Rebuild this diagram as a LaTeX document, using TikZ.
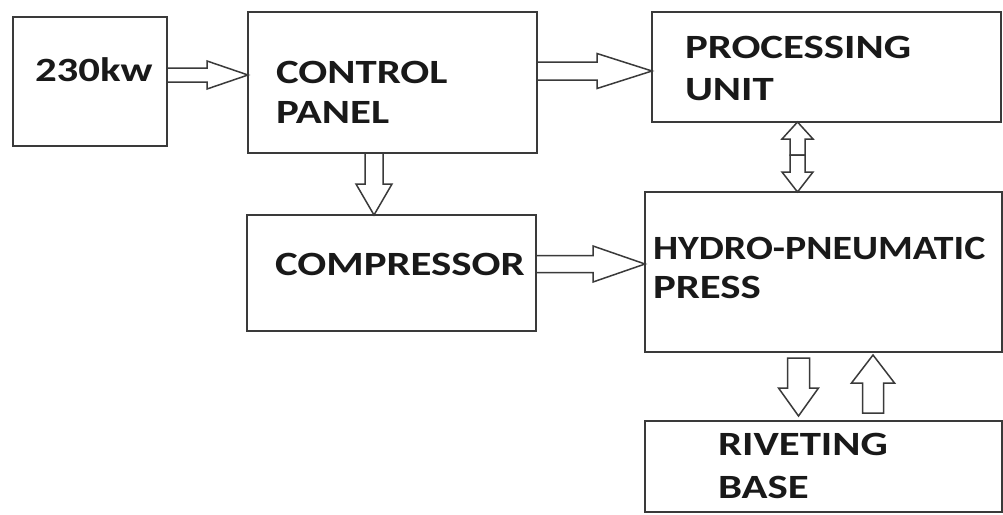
\documentclass[tikz,border=0pt]{standalone}
\usepackage{fontspec}
\usepackage{graphicx}
\setmainfont{Carlito}[FakeStretch=1.26]
\usetikzlibrary{calc}
\definecolor{edge}{HTML}{3A3A3A}
\tikzset{
  box/.style={draw=edge, line width=1.7pt, fill=white, inner sep=0pt, outer sep=0pt},
  barrow/.style={draw=edge, line width=1.5pt, fill=white, line join=miter},
  txt/.style={anchor=base west, inner sep=0pt, outer sep=0pt, text=black!90,
    font=\bfseries\fontsize{34}{41}\selectfont}
}
% block arrow: #1 start, #2 tip, #3 shaft half width, #4 head half width, #5 head length
\newcommand\blockarr[5]{%
  \coordinate (tmpP) at ($(#2)!#5!(#1)$);
  \draw[barrow] ($(#1)!#3!90:(#2)$) -- ($(tmpP)!#3!90:(#2)$) -- ($(tmpP)!#4!90:(#2)$)
    -- (#2) -- ($(tmpP)!#4!-90:(#2)$) -- ($(tmpP)!#3!-90:(#2)$) -- ($(#1)!#3!-90:(#2)$) -- cycle;}
\begin{document}
\begin{tikzpicture}[x=1pt,y=-1pt]
\useasboundingbox[fill=white] (0,0) rectangle (1003,514);
% boxes
\node[box, minimum width=154pt, minimum height=129pt] (b1) at (90,81.5) {};
\node[box, minimum width=289pt, minimum height=141pt] (b2) at (392.5,82.5) {};
\node[box, minimum width=349pt, minimum height=110pt] (b3) at (826.5,67) {};
\node[box, minimum width=289pt, minimum height=116pt] (b4) at (391.5,273) {};
\node[box, minimum width=357pt, minimum height=160pt] (b5) at (823.5,272) {};
\node[box, minimum width=357pt, minimum height=91pt] (b6) at (823.5,466.5) {};
% texts
\node[txt] (t1) at (35,81) {230kw};
\node[txt] (t2a) at (276,83) {CONTROL};
\node[txt] (t2b) at (276,123) {PANEL};
\node[txt] (t3a) at (685,58) {PROCESSING};
\node[txt] (t3b) at (685,100) {UNIT};
\node[txt] (t4) at (275,275) {COMPRESSOR};
\node[txt] (t5a) at (653,259) {\scalebox{0.93}[1]{HYDRO-PNEUMATIC}};
\node[txt] (t5b) at (653,298) {PRESS};
\node[txt] (t6a) at (718,455) {RIVETING};
\node[txt] (t6b) at (718,498) {BASE};
% arrow reference lines
\coordinate (y1) at (0,75);
\coordinate (y2) at (0,71);
\coordinate (y3) at (0,264);
\coordinate (x1) at (374,0);
\coordinate (x2) at (797.5,0);
\coordinate (x3) at (798.5,0);
\coordinate (x4) at (873,0);
\coordinate (a1s) at (b1.east |- y1);
\coordinate (a1e) at (b2.west |- y1);
\coordinate (a2s) at (b2.east |- y2);
\coordinate (a2e) at (b3.west |- y2);
\coordinate (a3s) at (b4.east |- y3);
\coordinate (a3e) at (b5.west |- y3);
\coordinate (a4s) at (x1 |- b2.south);
\coordinate (a4e) at (x1 |- b4.north);
\coordinate (m) at (797.5,155);
\coordinate (a5u) at (x2 |- b3.south);
\coordinate (a5d) at (x2 |- b5.north);
\coordinate (a6s) at ($(x3 |- b5.south)+(0,6)$);
\coordinate (a6e) at ($(x3 |- b6.north)+(0,-5)$);
\coordinate (a7s) at ($(x4 |- b6.north)+(0,-8)$);
\coordinate (a7e) at ($(x4 |- b5.south)+(0,3)$);
% arrows
\blockarr{a1s}{a1e}{7pt}{14pt}{41pt}
\blockarr{a2s}{a2e}{9pt}{17.5pt}{55pt}
\blockarr{a3s}{a3e}{8.5pt}{18pt}{52pt}
\blockarr{a4s}{a4e}{9pt}{18pt}{31pt}
\blockarr{m}{a5u}{7.5pt}{15.5pt}{17pt}
\blockarr{m}{a5d}{7.5pt}{15.5pt}{20pt}
\blockarr{a6s}{a6e}{11pt}{20pt}{28pt}
\blockarr{a7s}{a7e}{10.5pt}{21.5pt}{28pt}
\end{tikzpicture}
\end{document}
